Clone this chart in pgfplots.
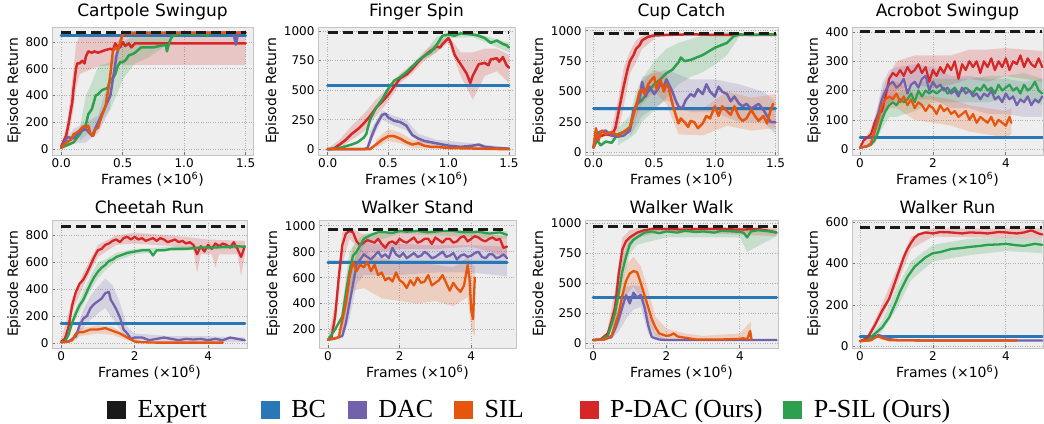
\documentclass[border=0pt]{standalone}
\usepackage{fontspec}
\setmainfont{DejaVu Sans}
\newfontfamily\legfont{Liberation Serif}
\usepackage{pgfplots}
\pgfplotsset{compat=1.18}

\definecolor{cexp}{HTML}{1A1A1A}
\definecolor{cbc}{HTML}{2878B8}
\definecolor{cdac}{HTML}{7262AC}
\definecolor{csil}{HTML}{E6550D}
\definecolor{cpdac}{HTML}{D62728}
\definecolor{cpsil}{HTML}{2CA04C}
\definecolor{bgc}{HTML}{EEEEEE}
\definecolor{gridc}{HTML}{B0B0B0}
\definecolor{framec}{HTML}{C4C4C4}

\pgfplotsset{
  panel/.style={scale only axis, anchor=north west,
    axis background/.style={fill=bgc},
    axis line style={framec, line width=0.9pt},
    grid=major, major grid style={gridc, dotted, line width=0.7pt},
    tick pos=left, major tick length=3pt,
    tick style={black!55, line width=0.7pt},
    /pgf/number format/assume math mode=true,
    /pgf/number format/set thousands separator={},
    tick label style={font=\fontsize{12}{12}\selectfont},
    label style={font=\fontsize{14}{14}\selectfont},
    title style={font=\fontsize{17}{17}\selectfont, yshift=-3pt},
    xlabel={Frames (×10\textsuperscript{6})},
    ylabel={Episode Return},
    xlabel style={yshift=2pt}, ylabel style={yshift=-2pt}},
  dec/.style={xtick={0,0.5,1,1.5},
    xticklabel style={/pgf/number format/.cd, fixed, fixed zerofill, precision=1}},
  ln/.style={line width=2.5pt, line join=round, line cap=round, mark=none, forget plot},
  exl/.style={ln, cexp, line width=3pt, dash pattern=on 10pt off 5pt, line cap=butt},
  bcl/.style={ln, cbc, line width=3pt},
  band/.style={draw=none, fill=#1, fill opacity=0.2, forget plot},
}

\begin{document}
\begin{tikzpicture}
\path[use as bounding box] (0,0) rectangle (1044pt,-423pt);

% ---------------- Cartpole Swingup
\begin{axis}[panel, dec, at={(52pt,-27pt)}, width=201pt, height=128pt,
  title={Cartpole Swingup}, xmin=-0.075, xmax=1.56, ymin=-44, ymax=912,
  ytick={0,200,...,800}]
\addplot[band=cpdac] coordinates {(0,30)(0.05,200)(0.1,600)(0.12,780)(0.15,850)(0.3,850)(0.5,860)(1.5,860)
  (1.5,630)(1.0,630)(0.5,630)(0.3,620)(0.15,560)(0.12,450)(0.1,300)(0.05,40)(0,10)} -- cycle;
\addplot[band=cpsil] coordinates {(0.15,150)(0.2,400)(0.25,500)(0.3,620)(0.4,650)(0.5,800)(0.6,850)(0.9,870)
  (0.9,800)(0.7,680)(0.6,640)(0.5,520)(0.45,400)(0.4,300)(0.3,180)(0.2,100)(0.15,60)} -- cycle;
\addplot[band=cdac] coordinates {(0,20)(0.1,150)(0.2,200)(0.3,250)(0.4,550)(0.4,300)(0.3,120)(0.2,50)(0.1,40)(0,5)} -- cycle;
\addplot[bcl] coordinates {(0,850)(1.5,850)};
\addplot[ln, cpdac] coordinates {(0,20)(0.02,60)(0.04,100)(0.06,190)(0.08,300)(0.09,350)(0.1,450)(0.12,600)(0.13,640)
  (0.15,640)(0.17,660)(0.19,640)(0.2,690)(0.22,730)(0.25,720)(0.27,730)(0.3,720)(0.33,730)(0.36,740)(0.4,750)
  (0.42,740)(0.44,790)(0.46,760)(0.48,760)(0.5,800)(0.52,770)(0.55,790)(0.57,760)(0.6,790)(0.7,790)(1.5,790)};
\addplot[ln, cpsil] coordinates {(0,10)(0.05,30)(0.1,50)(0.15,110)(0.2,180)(0.22,260)(0.25,300)(0.28,400)(0.3,410)
  (0.33,440)(0.36,450)(0.38,460)(0.4,520)(0.42,530)(0.44,560)(0.46,620)(0.48,650)(0.5,650)(0.52,660)(0.55,700)
  (0.58,710)(0.6,720)(0.65,760)(0.7,760)(0.75,760)(0.8,770)(0.85,780)(0.86,730)(0.88,800)(0.9,840)(0.95,860)
  (1.0,860)(1.18,860)(1.19,845)(1.2,865)(1.5,870)};
\addplot[ln, cdac] coordinates {(0,10)(0.05,90)(0.1,80)(0.15,130)(0.2,150)(0.25,100)(0.3,200)(0.35,300)(0.4,400)
  (0.45,700)(0.5,860)(0.55,870)(1.4,870)(1.42,780)(1.44,870)(1.5,870)};
\addplot[ln, csil] coordinates {(0,10)(0.03,40)(0.06,60)(0.08,70)(0.1,110)(0.12,120)(0.15,140)(0.18,170)(0.2,160)
  (0.22,175)(0.24,110)(0.26,100)(0.28,150)(0.3,160)(0.33,250)(0.36,320)(0.38,430)(0.4,560)(0.42,730)(0.44,760)
  (0.46,740)(0.48,800)(0.5,860)(0.55,865)(0.6,865)(1.0,868)(1.5,870)};
\addplot[exl] coordinates {(0,868)(1.5,868)};
\end{axis}

% ---------------- Finger Spin
\begin{axis}[panel, dec, at={(318pt,-27pt)}, width=197pt, height=128pt,
  title={Finger Spin}, xmin=-0.08, xmax=1.55, ymin=-49, ymax=1034,
  ytick={0,250,...,1000}]
\addplot[band=cbc] coordinates {(0,555)(1.5,555)(1.5,525)(0,525)} -- cycle;
\addplot[band=cpdac] coordinates {(0,5)(0.1,80)(0.2,200)(0.3,300)(0.4,420)(0.5,520)(0.6,640)(0.7,720)(0.8,830)(0.9,900)
  (1.0,960)(1.1,820)(1.2,820)(1.3,850)(1.4,850)(1.5,800)
  (1.5,560)(1.4,660)(1.3,620)(1.2,420)(1.1,620)(1.0,900)(0.9,820)(0.8,750)(0.7,640)(0.6,560)(0.5,400)(0.4,280)
  (0.3,150)(0.2,80)(0.1,10)(0,0)} -- cycle;
\addplot[band=cpsil] coordinates {(0.8,820)(0.9,950)(1.0,990)(1.2,990)(1.5,900)(1.5,820)(1.2,950)(1.0,940)(0.9,820)(0.8,760)} -- cycle;
\addplot[band=cdac] coordinates {(0.35,150)(0.45,330)(0.55,280)(0.65,250)(0.75,130)(0.9,80)(1.2,50)(1.5,15)
  (1.5,0)(1.2,10)(0.9,30)(0.75,60)(0.65,160)(0.55,200)(0.45,250)(0.35,50)} -- cycle;
\addplot[band=csil] coordinates {(0.4,80)(0.5,170)(0.6,140)(0.7,80)(0.9,40)(1.5,5)(1.5,0)(0.9,5)(0.7,10)(0.6,50)(0.5,70)(0.4,10)} -- cycle;
\addplot[bcl] coordinates {(0,540)(1.5,540)};
\addplot[ln, cpdac] coordinates {(0,0)(0.05,5)(0.1,40)(0.15,80)(0.2,130)(0.25,170)(0.3,220)(0.35,280)(0.4,350)
  (0.45,400)(0.5,460)(0.55,530)(0.6,600)(0.65,630)(0.7,680)(0.75,740)(0.8,790)(0.85,830)(0.88,850)(0.9,870)
  (0.93,860)(0.95,890)(1.0,940)(1.02,900)(1.05,800)(1.08,750)(1.1,720)(1.15,640)(1.18,560)(1.2,620)(1.25,720)
  (1.3,730)(1.33,710)(1.35,760)(1.4,770)(1.42,740)(1.45,780)(1.48,710)(1.5,690)};
\addplot[ln, cpsil] coordinates {(0,0)(0.1,10)(0.2,40)(0.25,60)(0.3,100)(0.32,130)(0.35,250)(0.4,350)(0.45,420)
  (0.5,510)(0.55,580)(0.6,610)(0.65,650)(0.7,700)(0.75,750)(0.8,790)(0.85,820)(0.9,880)(0.95,960)(1.0,970)
  (1.05,960)(1.1,980)(1.2,970)(1.25,960)(1.3,940)(1.35,900)(1.4,920)(1.45,890)(1.48,880)(1.5,860)};
\addplot[ln, cdac] coordinates {(0,0)(0.3,0)(0.33,10)(0.36,100)(0.4,200)(0.45,290)(0.48,300)(0.5,270)(0.55,240)
  (0.6,230)(0.65,200)(0.7,120)(0.75,90)(0.8,70)(0.85,60)(0.9,50)(1.0,30)(1.1,20)(1.2,30)(1.25,40)(1.3,20)
  (1.4,10)(1.5,5)};
\addplot[ln, csil] coordinates {(0,0)(0.35,0)(0.4,40)(0.45,80)(0.5,110)(0.55,110)(0.6,90)(0.65,60)(0.7,40)
  (0.75,50)(0.8,30)(0.85,20)(0.9,20)(1.0,10)(1.5,0)};
\addplot[exl] coordinates {(0,985)(1.5,985)};
\end{axis}

% ---------------- Cup Catch
\begin{axis}[panel, dec, at={(585pt,-27pt)}, width=193pt, height=128pt,
  title={Cup Catch}, xmin=-0.07, xmax=1.52, ymin=-20, ymax=1030,
  ytick={0,250,...,1000}]
\addplot[band=cbc] coordinates {(0,375)(1.5,375)(1.5,345)(0,345)} -- cycle;
\addplot[band=cpsil] coordinates {(0.2,200)(0.3,300)(0.35,500)(0.4,600)(0.5,750)(0.6,850)(0.7,900)(0.8,930)(0.9,960)
  (1.0,980)(1.1,990)(1.2,985)(1.2,950)(1.1,800)(1.0,720)(0.9,660)(0.8,620)(0.7,560)(0.6,450)(0.5,350)(0.4,250)
  (0.35,160)(0.3,120)(0.2,60)} -- cycle;
\addplot[band=cpdac] coordinates {(0.15,200)(0.2,420)(0.25,700)(0.3,830)(0.35,920)(0.4,960)(0.5,980)
  (0.5,930)(0.4,850)(0.35,740)(0.3,650)(0.25,380)(0.2,170)(0.15,100)} -- cycle;
\addplot[band=cdac] coordinates {(0.3,250)(0.4,620)(0.6,680)(0.8,600)(1.0,600)(1.2,560)(1.4,500)(1.5,420)
  (1.5,150)(1.4,250)(1.2,250)(1.0,330)(0.8,330)(0.6,430)(0.4,300)(0.3,130)} -- cycle;
\addplot[band=csil] coordinates {(0.3,260)(0.4,580)(0.5,680)(0.6,640)(0.7,380)(0.9,360)(1.1,500)(1.3,450)(1.5,480)
  (1.5,200)(1.3,180)(1.1,220)(0.9,140)(0.7,150)(0.6,400)(0.5,500)(0.4,400)(0.3,160)} -- cycle;
\addplot[bcl] coordinates {(0,360)(1.5,360)};
\addplot[ln, cpdac] coordinates {(0,40)(0.02,150)(0.05,130)(0.1,150)(0.15,140)(0.18,200)(0.2,300)(0.22,400)(0.25,550)
  (0.28,680)(0.3,750)(0.33,800)(0.35,850)(0.38,880)(0.4,920)(0.45,950)(0.5,960)(0.6,965)(0.8,970)(1.0,965)(1.5,965)};
\addplot[ln, cpsil] coordinates {(0,40)(0.03,100)(0.06,60)(0.1,90)(0.15,80)(0.2,150)(0.25,170)(0.3,200)(0.33,330)
  (0.36,400)(0.4,430)(0.45,500)(0.5,560)(0.55,600)(0.6,650)(0.65,680)(0.7,740)(0.72,780)(0.75,750)(0.8,760)
  (0.85,780)(0.9,800)(0.95,830)(1.0,860)(1.05,880)(1.1,900)(1.15,950)(1.2,970)(1.3,965)(1.5,970)};
\addplot[ln, cdac] coordinates {(0,40)(0.02,120)(0.05,170)(0.1,180)(0.15,140)(0.2,130)(0.25,140)(0.3,180)(0.33,350)
  (0.36,400)(0.38,430)(0.4,580)(0.43,460)(0.46,540)(0.5,480)(0.53,520)(0.55,560)(0.58,540)(0.6,600)(0.62,560)
  (0.65,500)(0.68,420)(0.7,380)(0.73,360)(0.76,430)(0.8,480)(0.83,460)(0.86,520)(0.9,480)(0.93,560)(0.96,500)
  (1.0,460)(1.03,540)(1.06,500)(1.1,480)(1.13,420)(1.16,460)(1.2,400)(1.23,380)(1.26,400)(1.3,360)(1.33,380)
  (1.36,400)(1.4,350)(1.43,300)(1.46,250)(1.5,250)};
\addplot[ln, csil] coordinates {(0,40)(0.02,200)(0.04,100)(0.07,180)(0.1,150)(0.15,170)(0.2,140)(0.25,170)(0.3,210)
  (0.33,310)(0.36,420)(0.38,500)(0.4,520)(0.42,480)(0.45,560)(0.48,600)(0.5,620)(0.52,520)(0.55,600)(0.58,500)
  (0.6,560)(0.62,530)(0.65,400)(0.68,300)(0.7,240)(0.72,280)(0.75,250)(0.78,210)(0.8,260)(0.83,250)(0.86,200)
  (0.9,240)(0.93,300)(0.96,280)(1.0,380)(1.03,300)(1.06,380)(1.1,340)(1.13,310)(1.16,380)(1.2,290)(1.23,260)
  (1.26,280)(1.3,350)(1.33,300)(1.36,260)(1.4,300)(1.43,240)(1.46,350)(1.48,400)};
\addplot[exl] coordinates {(0,975)(1.5,975)};
\end{axis}

% ---------------- Acrobot Swingup
\begin{axis}[panel, at={(852pt,-27pt)}, width=191pt, height=128pt,
  title={Acrobot Swingup}, xmin=-0.22, xmax=5.02, ymin=-20, ymax=417,
  xtick={0,2,4}, ytick={0,100,...,400}]
\addplot[band=cpdac] coordinates {(0,10)(0.3,70)(0.5,150)(0.7,230)(1.0,300)(1.5,320)(2.0,320)(2.5,320)(3.0,340)(3.5,340)
  (4.0,345)(4.5,340)(5.0,335)(5.0,230)(4.5,240)(4.0,250)(3.5,230)(3.0,240)(2.5,220)(2.0,210)(1.5,220)(1.0,200)
  (0.7,130)(0.5,80)(0.3,20)(0,0)} -- cycle;
\addplot[band=cdac] coordinates {(0.4,90)(0.6,220)(0.8,270)(1.0,280)(1.5,290)(2.0,280)(2.5,250)(3.0,250)(3.5,240)(4.0,240)
  (4.5,230)(5.0,240)(5.0,110)(4.5,110)(4.0,120)(3.5,120)(3.0,140)(2.5,140)(2.0,170)(1.5,170)(1.0,160)(0.8,160)
  (0.6,110)(0.4,30)} -- cycle;
\addplot[band=cpsil] coordinates {(0.4,50)(0.6,130)(0.8,180)(1.0,190)(1.5,220)(2.0,240)(2.5,240)(3.0,240)(3.5,250)
  (4.0,250)(4.5,260)(5.0,240)(5.0,150)(4.5,170)(4.0,170)(3.5,160)(3.0,160)(2.5,160)(2.0,160)(1.5,130)(1.0,110)
  (0.8,110)(0.6,70)(0.4,15)} -- cycle;
\addplot[band=csil] coordinates {(0.4,90)(0.6,190)(0.8,220)(1.0,230)(1.5,190)(2.0,180)(2.5,170)(3.0,150)(3.5,140)
  (4.0,130)(4.15,140)(4.15,50)(4.0,40)(3.5,50)(3.0,60)(2.5,80)(2.0,90)(1.5,100)(1.0,140)(0.8,140)(0.6,110)(0.4,30)} -- cycle;
\addplot[bcl] coordinates {(0,40)(5,40)};
\addplot[ln, cpdac, line width=2.2pt] coordinates {(0,5)(0.1,30)(0.2,40)(0.3,50)(0.4,90)(0.5,120)(0.6,130)(0.7,180)
  (0.8,240)(0.9,260)(1.0,250)(1.1,270)(1.2,250)(1.3,280)(1.4,260)(1.5,270)(1.6,290)(1.7,260)(1.8,280)(1.9,230)
  (2.0,270)(2.1,250)(2.2,280)(2.3,260)(2.4,290)(2.5,270)(2.6,300)(2.7,240)(2.8,290)(2.9,270)(3.0,300)(3.1,280)
  (3.2,300)(3.3,260)(3.4,300)(3.5,280)(3.6,310)(3.7,270)(3.8,300)(3.9,280)(4.0,310)(4.1,270)(4.2,300)(4.3,290)
  (4.4,320)(4.5,280)(4.6,310)(4.7,290)(4.8,280)(4.9,310)(5.0,280)};
\addplot[ln, cpsil, line width=2.2pt] coordinates {(0,5)(0.2,10)(0.3,15)(0.4,30)(0.5,60)(0.6,100)(0.7,130)(0.8,150)
  (0.9,160)(1.0,150)(1.1,170)(1.2,160)(1.3,170)(1.4,190)(1.5,160)(1.6,200)(1.7,180)(1.8,200)(1.9,190)(2.0,200)
  (2.1,190)(2.2,200)(2.3,210)(2.4,190)(2.5,200)(2.6,210)(2.7,190)(2.8,200)(2.9,210)(3.0,200)(3.1,190)(3.2,210)
  (3.3,200)(3.4,220)(3.5,200)(3.6,210)(3.7,190)(3.8,220)(3.9,200)(4.0,210)(4.1,220)(4.2,200)(4.3,210)(4.4,190)
  (4.5,220)(4.6,200)(4.7,210)(4.8,230)(4.9,200)(5.0,190)};
\addplot[ln, cdac, line width=2.2pt] coordinates {(0,5)(0.2,10)(0.3,20)(0.4,60)(0.5,120)(0.6,170)(0.7,200)(0.8,220)
  (0.9,230)(1.0,210)(1.1,220)(1.2,240)(1.3,190)(1.4,220)(1.5,230)(1.6,210)(1.7,240)(1.8,250)(1.9,200)(2.0,230)
  (2.1,210)(2.2,220)(2.3,200)(2.4,210)(2.5,190)(2.6,200)(2.7,180)(2.8,210)(2.9,190)(3.0,200)(3.1,180)(3.2,190)
  (3.3,170)(3.4,190)(3.5,180)(3.6,200)(3.7,170)(3.8,180)(3.9,160)(4.0,190)(4.1,170)(4.2,180)(4.3,150)(4.4,170)
  (4.5,160)(4.6,180)(4.7,150)(4.8,170)(4.9,160)(5.0,180)};
\addplot[ln, csil, line width=2.2pt] coordinates {(0,5)(0.2,10)(0.3,20)(0.4,60)(0.5,100)(0.6,150)(0.7,170)(0.8,180)
  (0.9,170)(1.0,190)(1.1,160)(1.2,180)(1.3,150)(1.4,170)(1.5,140)(1.6,160)(1.7,150)(1.8,130)(1.9,150)(2.0,140)
  (2.1,120)(2.2,150)(2.3,130)(2.4,140)(2.5,120)(2.6,130)(2.7,110)(2.8,120)(2.9,130)(3.0,100)(3.1,120)(3.2,90)
  (3.3,110)(3.4,100)(3.5,90)(3.6,110)(3.7,80)(3.8,100)(3.9,90)(4.0,80)(4.1,110)(4.15,90)};
\addplot[exl] coordinates {(0,400)(5,400)};
\end{axis}

% ---------------- Cheetah Run
\begin{axis}[panel, at={(52pt,-220pt)}, width=195pt, height=128pt,
  title={Cheetah Run}, xmin=-0.25, xmax=5.06, ymin=-38, ymax=915,
  xtick={0,2,4}, ytick={0,200,...,800}]
\addplot[band=cpdac] coordinates {(0,20)(0.3,330)(0.6,520)(1.0,730)(1.5,800)(2.0,820)(3.0,800)(4.0,770)(5.0,760)
  (5.0,650)(4.9,500)(4.8,660)(4.3,660)(4.2,560)(4.1,660)(3.8,660)(3.7,520)(3.6,690)(3.0,720)(2.0,740)(1.5,730)
  (1.0,640)(0.6,420)(0.3,230)(0,0)} -- cycle;
\addplot[band=cpsil] coordinates {(0,10)(0.4,260)(0.8,500)(1.0,600)(1.2,620)(1.5,670)(2.0,700)(3.0,715)(4.0,725)(5.0,730)
  (5.0,700)(4.0,695)(3.0,685)(2.0,660)(1.5,610)(1.2,540)(1.0,480)(0.8,390)(0.4,180)(0,0)} -- cycle;
\addplot[band=cdac] coordinates {(0.4,80)(0.6,250)(0.8,350)(1.0,420)(1.2,480)(1.4,430)(1.6,300)(1.8,120)(2.0,70)(3.0,50)
  (4.0,50)(5.0,40)(5.0,5)(4.0,5)(3.0,10)(2.0,15)(1.8,30)(1.6,100)(1.4,180)(1.2,260)(1.0,220)(0.8,170)(0.6,110)(0.4,20)} -- cycle;
\addplot[band=csil] coordinates {(0.3,40)(0.5,110)(1.0,130)(1.4,120)(1.8,60)(2.2,10)(4.4,5)(4.4,0)(2.2,0)(1.8,20)(1.4,60)
  (1.0,70)(0.5,50)(0.3,5)} -- cycle;
\addplot[bcl] coordinates {(0,148)(5,148)};
\addplot[ln, cpdac, line width=2.3pt] coordinates {(0,10)(0.1,30)(0.2,120)(0.3,280)(0.4,380)(0.5,440)(0.6,470)(0.7,520)
  (0.8,580)(0.9,640)(1.0,690)(1.1,700)(1.2,730)(1.3,740)(1.4,760)(1.5,770)(1.6,750)(1.7,780)(1.8,790)(1.9,770)
  (2.0,790)(2.1,770)(2.2,780)(2.3,760)(2.4,770)(2.5,780)(2.6,760)(2.7,780)(2.8,770)(2.9,750)(3.0,760)(3.1,770)
  (3.2,750)(3.3,760)(3.4,740)(3.5,750)(3.6,730)(3.7,660)(3.8,720)(3.9,680)(4.0,730)(4.1,700)(4.2,740)(4.3,720)
  (4.4,740)(4.5,730)(4.6,710)(4.7,750)(4.8,700)(4.9,640)(5.0,720)};
\addplot[ln, cpsil, line width=2.3pt] coordinates {(0,5)(0.1,10)(0.2,60)(0.3,150)(0.4,220)(0.5,280)(0.6,320)(0.7,380)
  (0.8,440)(0.9,490)(1.0,530)(1.1,560)(1.2,580)(1.3,610)(1.4,620)(1.5,640)(1.6,650)(1.7,660)(1.8,670)(2.0,680)
  (2.2,690)(2.4,690)(2.5,650)(2.6,690)(2.8,690)(3.0,700)(3.2,700)(3.4,700)(3.6,705)(3.8,710)(4.0,710)(4.2,710)
  (4.4,715)(4.6,715)(4.8,720)(5.0,715)};
\addplot[ln, cdac, line width=2.3pt] coordinates {(0,5)(0.2,10)(0.4,50)(0.5,130)(0.6,180)(0.7,200)(0.8,260)(0.9,290)
  (1.0,310)(1.1,330)(1.2,370)(1.3,380)(1.35,320)(1.4,300)(1.5,250)(1.6,190)(1.7,100)(1.8,70)(1.9,30)(2.0,40)
  (2.2,40)(2.4,20)(2.6,30)(2.8,40)(3.0,30)(3.2,20)(3.4,30)(3.6,25)(3.8,30)(4.0,20)(4.2,30)(4.4,20)(4.6,40)
  (4.8,30)(5.0,20)};
\addplot[ln, csil, line width=2.3pt] coordinates {(0,5)(0.2,10)(0.3,20)(0.4,70)(0.5,80)(0.6,80)(0.8,100)(1.0,100)
  (1.2,110)(1.4,90)(1.6,70)(1.8,40)(2.0,10)(2.2,5)(2.6,2)(3.0,2)(4.0,2)(4.4,2)};
\addplot[exl] coordinates {(0,870)(5,870)};
\end{axis}

% ---------------- Walker Stand
\begin{axis}[panel, at={(319pt,-220pt)}, width=197pt, height=128pt,
  title={Walker Stand}, xmin=-0.25, xmax=5.25, ymin=57, ymax=1045,
  xtick={0,2,4}, ytick={200,400,...,1000}]
\addplot[band=cbc] coordinates {(0,735)(5,735)(5,705)(0,705)} -- cycle;
\addplot[band=csil] coordinates {(0.3,170)(0.5,550)(0.7,850)(1.0,800)(1.5,750)(2.0,720)(2.5,720)(3.0,700)(3.5,680)
  (3.9,760)(4.1,680)(4.1,150)(4.0,200)(3.9,450)(3.5,380)(3.0,420)(2.5,400)(2.0,420)(1.5,440)(1.0,520)(0.7,500)
  (0.5,250)(0.3,110)} -- cycle;
\addplot[band=cdac] coordinates {(0.4,200)(0.6,550)(0.8,800)(1.0,860)(2.0,860)(3.0,850)(4.0,850)(5.0,840)
  (5.0,610)(4.0,640)(3.0,640)(2.0,620)(1.0,620)(0.8,550)(0.6,280)(0.4,120)} -- cycle;
\addplot[band=cpdac] coordinates {(0,130)(0.2,400)(0.4,950)(0.6,990)(1.0,930)(2.0,950)(3.0,950)(4.0,950)(5.0,920)
  (5.0,760)(4.0,840)(3.0,820)(2.0,820)(1.0,780)(0.6,900)(0.4,700)(0.2,200)(0,110)} -- cycle;
\addplot[band=cpsil] coordinates {(0.4,380)(0.6,800)(0.8,880)(1.0,940)(2.0,975)(5.0,960)(5.0,900)(2.0,940)(1.0,850)
  (0.8,700)(0.6,480)(0.4,200)} -- cycle;
\addplot[bcl] coordinates {(0,720)(5,720)};
\addplot[ln, cpdac, line width=2.3pt] coordinates {(0,120)(0.1,140)(0.2,300)(0.3,600)(0.4,850)(0.5,940)(0.6,960)(0.7,950)
  (0.8,880)(0.9,850)(1.0,870)(1.1,890)(1.2,880)(1.3,870)(1.4,900)(1.5,860)(1.6,830)(1.7,870)(1.8,880)(1.9,860)
  (2.0,900)(2.1,880)(2.2,870)(2.3,890)(2.4,910)(2.5,870)(2.6,880)(2.7,900)(2.8,900)(2.9,860)(3.0,910)(3.1,890)
  (3.2,870)(3.3,900)(3.4,900)(3.5,870)(3.6,880)(3.7,910)(3.8,920)(3.9,880)(4.0,900)(4.1,920)(4.2,910)(4.3,890)
  (4.4,880)(4.5,900)(4.6,910)(4.7,890)(4.8,900)(4.9,830)(5.0,840)};
\addplot[ln, cpsil, line width=2.3pt] coordinates {(0,120)(0.2,200)(0.4,300)(0.5,480)(0.6,650)(0.7,770)(0.8,800)(0.9,850)
  (1.0,900)(1.2,930)(1.4,950)(1.6,950)(1.8,945)(2.0,960)(2.2,955)(2.5,960)(2.8,950)(3.0,955)(3.2,960)(3.5,960)
  (3.8,950)(4.0,950)(4.2,955)(4.5,940)(4.8,950)(5.0,930)};
\addplot[ln, cdac, line width=2.3pt] coordinates {(0,120)(0.2,130)(0.4,150)(0.5,250)(0.6,400)(0.7,550)(0.8,700)(0.9,740)
  (1.0,780)(1.1,760)(1.2,740)(1.3,770)(1.4,800)(1.5,760)(1.6,780)(1.7,750)(1.8,830)(1.9,780)(2.0,760)(2.1,790)
  (2.2,750)(2.3,770)(2.4,790)(2.5,760)(2.6,770)(2.7,800)(2.8,780)(2.9,750)(3.0,760)(3.1,780)(3.2,800)(3.3,760)
  (3.4,770)(3.5,790)(3.6,740)(3.7,770)(3.8,780)(3.9,760)(4.0,770)(4.1,790)(4.2,800)(4.3,760)(4.4,750)(4.5,780)
  (4.6,780)(4.7,750)(4.8,760)(4.9,780)(5.0,750)};
\addplot[ln, csil, line width=2.3pt] coordinates {(0,120)(0.3,140)(0.5,400)(0.6,600)(0.7,720)(0.8,650)(0.9,700)(1.0,680)
  (1.1,720)(1.2,650)(1.3,700)(1.4,620)(1.5,640)(1.6,580)(1.7,600)(1.8,570)(1.9,640)(2.0,580)(2.1,560)(2.2,520)
  (2.3,580)(2.4,540)(2.5,600)(2.6,560)(2.7,570)(2.8,620)(2.9,540)(3.0,560)(3.1,580)(3.2,620)(3.3,560)(3.4,500)
  (3.5,560)(3.6,520)(3.7,490)(3.8,540)(3.9,700)(3.95,600)(4.0,350)(4.05,280)(4.1,600)};
\addplot[exl] coordinates {(0,975)(5,975)};
\end{axis}

% ---------------- Walker Walk
\begin{axis}[panel, at={(585pt,-220pt)}, width=193pt, height=128pt,
  title={Walker Walk}, xmin=-0.22, xmax=5.04, ymin=-41, ymax=1025,
  xtick={0,2,4}, ytick={0,250,...,1000}]
\addplot[band=cbc] coordinates {(0,395)(5,395)(5,365)(0,365)} -- cycle;
\addplot[band=csil] coordinates {(0.5,100)(0.7,380)(0.9,650)(1.1,720)(1.3,640)(1.5,440)(1.7,220)(2.0,120)(2.5,80)(3.0,60)
  (4.0,80)(4.3,180)(4.32,60)(4.32,20)(4.0,20)(3.0,20)(2.5,25)(2.0,30)(1.7,60)(1.5,180)(1.3,380)(1.1,470)(0.9,400)
  (0.7,150)(0.5,30)} -- cycle;
\addplot[band=cdac] coordinates {(0.5,80)(0.7,300)(0.9,470)(1.1,480)(1.3,470)(1.5,250)(1.7,80)(2.0,35)(2.0,20)(1.7,25)
  (1.5,80)(1.3,300)(1.1,280)(0.9,200)(0.7,100)(0.5,30)} -- cycle;
\addplot[band=cpdac] coordinates {(0.4,120)(0.6,450)(0.8,880)(1.0,940)(1.2,960)(2.0,970)(5.0,960)(5.0,890)(2.0,930)
  (1.2,880)(1.0,800)(0.8,650)(0.6,200)(0.4,50)} -- cycle;
\addplot[band=cpsil] coordinates {(0.4,90)(0.6,350)(0.8,700)(1.0,880)(1.2,920)(2.0,950)(3.0,950)(4.0,950)(5.0,950)
  (5.0,890)(4.2,760)(4.0,880)(3.0,880)(2.0,880)(1.2,820)(1.0,740)(0.8,500)(0.6,170)(0.4,40)} -- cycle;
\addplot[bcl] coordinates {(0,380)(5,380)};
\addplot[ln, cpdac, line width=2.3pt] coordinates {(0,25)(0.2,30)(0.4,80)(0.5,180)(0.6,300)(0.7,580)(0.8,780)(0.9,850)
  (1.0,880)(1.1,900)(1.2,920)(1.4,940)(1.6,950)(2.0,950)(2.5,945)(3.0,950)(3.5,950)(4.0,945)(4.5,950)(4.8,935)(5.0,920)};
\addplot[ln, cpsil, line width=2.3pt] coordinates {(0,25)(0.2,30)(0.4,60)(0.5,150)(0.6,250)(0.7,420)(0.8,600)(0.9,720)
  (1.0,820)(1.1,860)(1.2,880)(1.3,900)(1.4,920)(1.6,930)(1.8,915)(2.0,930)(2.3,920)(2.5,935)(2.8,925)(3.0,930)
  (3.3,920)(3.5,935)(3.8,930)(4.0,925)(4.1,920)(4.2,880)(4.3,930)(4.5,940)(4.8,930)(5.0,920)};
\addplot[ln, cdac, line width=2.3pt] coordinates {(0,25)(0.3,30)(0.5,50)(0.6,120)(0.7,200)(0.8,300)(0.9,400)(1.0,330)
  (1.1,420)(1.2,380)(1.3,400)(1.4,300)(1.5,150)(1.6,50)(1.8,30)(2.0,25)(3.0,25)(4.0,25)(5.0,25)};
\addplot[ln, csil, line width=2.3pt] coordinates {(0,25)(0.3,30)(0.5,60)(0.6,150)(0.7,250)(0.8,400)(0.9,520)(1.0,580)
  (1.1,600)(1.2,590)(1.3,500)(1.4,400)(1.5,300)(1.6,200)(1.7,130)(1.8,80)(1.9,70)(2.0,60)(2.1,65)(2.2,80)(2.3,55)
  (2.4,50)(2.6,40)(2.8,30)(3.0,30)(3.5,30)(4.0,35)(4.1,40)(4.2,30)(4.28,100)(4.32,30)};
\addplot[exl] coordinates {(0,975)(5,975)};
\end{axis}

% ---------------- Walker Run
\begin{axis}[panel, at={(852pt,-220pt)}, width=191pt, height=128pt,
  title={Walker Run}, xmin=-0.22, xmax=5.02, ymin=-8, ymax=610,
  xtick={0,2,4}, ytick={0,200,...,600}]
\addplot[band=cbc] coordinates {(0,56)(5,56)(5,40)(0,40)} -- cycle;
\addplot[band=cpdac] coordinates {(0.2,50)(0.6,200)(1.0,370)(1.4,530)(2.0,570)(5.0,570)(5.0,520)(2.0,530)(1.4,470)
  (1.0,290)(0.6,140)(0.2,30)} -- cycle;
\addplot[band=cpsil] coordinates {(0.2,40)(0.6,120)(1.0,280)(1.4,410)(2.0,490)(3.0,520)(4.0,525)(5.0,520)(5.0,450)
  (4.0,460)(3.0,440)(2.0,410)(1.4,320)(1.0,180)(0.6,70)(0.2,20)} -- cycle;
\addplot[bcl] coordinates {(0,48)(5,48)};
\addplot[ln, cpdac, line width=2.3pt] coordinates {(0,25)(0.2,40)(0.4,100)(0.6,170)(0.8,230)(0.9,280)(1.0,330)(1.1,380)
  (1.2,430)(1.3,470)(1.4,500)(1.5,525)(1.6,540)(1.8,550)(2.0,545)(2.2,552)(2.5,550)(2.8,545)(3.0,550)(3.3,548)
  (3.5,545)(3.8,552)(4.0,550)(4.3,545)(4.5,550)(4.7,560)(4.9,545)(5.0,540)};
\addplot[ln, cpsil, line width=2.3pt] coordinates {(0,25)(0.2,30)(0.4,60)(0.6,90)(0.8,140)(0.9,180)(1.0,220)(1.1,265)
  (1.2,300)(1.3,335)(1.4,360)(1.5,385)(1.6,400)(1.8,430)(2.0,450)(2.2,455)(2.5,470)(2.8,475)(3.0,480)(3.3,485)
  (3.5,490)(3.8,492)(4.0,495)(4.3,488)(4.5,485)(4.8,495)(5.0,490)};
\addplot[ln, cdac, line width=2.3pt] coordinates {(0,25)(0.3,30)(0.5,55)(0.6,50)(0.8,35)(1.0,30)(2.0,28)(3.0,28)(4.0,28)(5.0,28)};
\addplot[ln, csil, line width=2.3pt] coordinates {(0,25)(0.3,30)(0.5,50)(0.6,40)(0.8,30)(1.0,30)(2.0,28)(3.0,28)(4.0,28)(4.3,28)};
\addplot[exl] coordinates {(0,575)(5,575)};
\end{axis}

% ---------------- Legend
\begin{axis}[hide axis, scale only axis, anchor=north west, at={(0pt,0pt)},
  width=1044pt, height=423pt, xmin=0, xmax=1044, ymin=-423, ymax=0,
  legend columns=6,
  legend image code/.code={\fill[#1] (0pt,-8.5pt) rectangle (18pt,8.5pt); \path (30pt,0pt);},
  legend style={at={(axis cs:107,-409.5)}, anchor=west, draw=none, fill=none,
    inner sep=0pt, column sep=0pt, font=\legfont\fontsize{26}{26}\selectfont,
    nodes={inner sep=0pt, anchor=west}}]
\addlegendimage{cexp}\addlegendentry{Expert\hspace*{54pt}\mbox{}}
\addlegendimage{cbc}\addlegendentry{BC\hspace*{22pt}\mbox{}}
\addlegendimage{cdac}\addlegendentry{DAC\hspace*{21pt}\mbox{}}
\addlegendimage{csil}\addlegendentry{SIL\hspace*{56pt}\mbox{}}
\addlegendimage{cpdac}\addlegendentry{P-DAC (Ours)\hspace*{21pt}\mbox{}}
\addlegendimage{cpsil}\addlegendentry{P-SIL (Ours)}
\end{axis}
\end{tikzpicture}
\end{document}
